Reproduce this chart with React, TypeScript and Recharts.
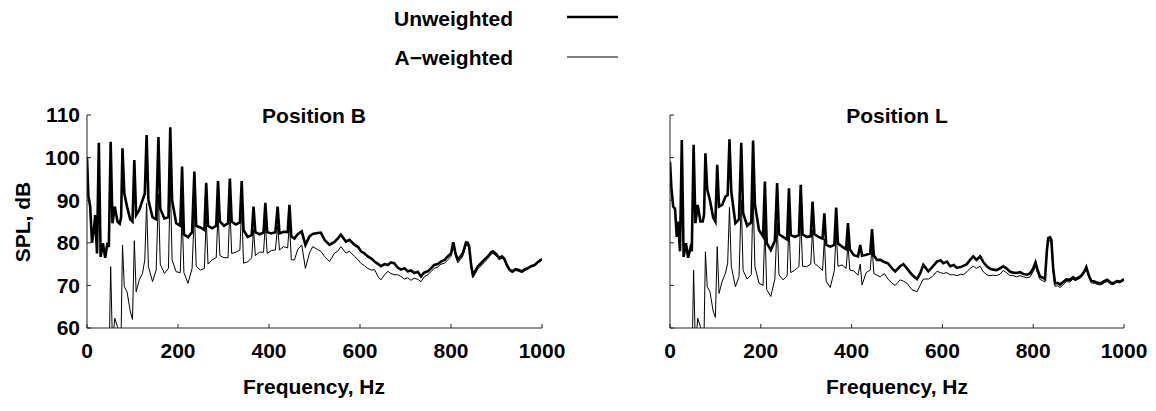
import { Line, LineChart, XAxis, YAxis } from "recharts";

// frequency grid, Hz
const freqs = [
  0, 3, 7, 11, 15, 18, 22, 26, 30, 35, 40, 45, 48,
  52, 56, 61, 67, 72, 75, 78, 82, 88, 95, 100,
  104, 108, 115, 122, 127, 131, 135, 144, 152, 157, 161, 170, 179, 183, 187, 196, 205,
  209, 213, 222, 231,
  236, 240, 249, 258, 262, 266, 275, 284, 288, 292, 301, 310, 314, 318, 327, 336,
  340, 344, 353, 362, 366, 370, 379, 388, 392, 396, 405, 414, 419, 423, 432, 441, 445, 449,
  456, 463, 472, 480, 489, 496, 507, 514, 522, 533, 544, 551, 558, 569, 577,
  588, 596, 602, 610, 617, 625, 632, 640, 646, 654, 661, 668, 675, 683, 690,
  698, 705, 712, 719, 727, 734, 741, 749, 756, 763, 771, 778, 786, 793, 800,
  805, 810, 815, 821, 826, 830, 833, 837, 840, 844, 848, 854, 859, 866, 873,
  881, 888, 892, 899, 906, 912, 917, 922, 928, 935, 942, 949, 956, 963, 970,
  976, 984, 991, 998, 1000,
];

// Position B, SPL dB
const unweightedB = [
  100.2, 91, 88.5, 80, 83, 86.5, 77.5, 103.5, 76.7, 79.9, 76.5, 80, 79,
  103.7, 84.6, 88.5, 85, 84.5, 86, 102.2, 91.6, 88.5, 85.5, 85,
  99.4, 86.5, 87.7, 90, 91.5, 105.3, 90, 86, 85.5, 104.8, 88, 85.7, 86, 107.1, 90, 84.6, 84,
  97.9, 82, 81.3, 82.5,
  96.7, 84, 83.6, 83, 94.1, 84, 83.4, 84, 94.5, 85, 84, 84.6, 95.1, 85, 84.3, 84.8,
  94.5, 83, 81.4, 81.8, 88.5, 82.5, 82, 82.4, 89.4, 82.5, 82.2, 82.5, 88.5, 82.2, 82.6, 82.5, 88.9, 81.5,
  81, 82, 82.7, 79.5, 81.5, 82.1, 82.3, 82.4, 80.7, 79.5, 80.2, 81, 81.9, 80.3, 80.7,
  79.5, 79, 78, 77.5, 76.8, 76.3, 75.6, 75, 74.5, 75, 74.8, 75.4, 75.2, 74.2, 73.7,
  74, 73.3, 73.5, 72.9, 73.2, 72.1, 73, 73.3, 74, 74.8, 75, 75.6, 76, 76.8, 77.5,
  80.1, 77.5, 76, 76.8, 77.6, 79, 80.1, 80, 79.1, 75, 72.5, 73.5, 74.5, 75.2, 76,
  76.8, 77.8, 78, 77.4, 76.4, 76.8, 76.3, 75, 73.8, 73.3, 73.8, 73.6, 73.3, 73.8, 74.1,
  74.5, 74.8, 75.5, 76, 76.2,
];

const aWeightedB = [
  40, 42, 44, 45, 47, 48, 46, 57, 46, 49, 48, 51, 50,
  74.4, 56, 62.3, 60.3, 58, 59, 79.5, 69.7, 68.5, 64, 62,
  80.5, 68.5, 71.3, 72.8, 76, 89.3, 74.4, 70.9, 73.6, 91.4, 75, 72.8, 74, 95.1, 76, 73.2, 73,
  87.4, 73, 70.5, 74,
  87.5, 74.5, 73.6, 74, 85.9, 75, 76, 76.5, 87.1, 77, 76.5, 76.5, 88.5, 77.5, 77.8, 78.3,
  88.5, 75.2, 75.5, 76.5, 83.1, 77, 77.8, 77.8, 84.5, 77.5, 78.2, 78.3, 84, 78.3, 79.1, 78.8, 84.8, 76,
  76, 78.4, 79.5, 74, 77.6, 79.1, 78.4, 78, 76.8, 75.6, 77.6, 78, 79.1, 77.6, 78,
  76.8, 76, 75.2, 74.6, 74, 73.6, 73.7, 72, 71.3, 72.5, 73.3, 72.8, 72.5, 72.5, 72.1,
  71.5, 71.8, 71.2, 71.7, 71.4, 70.9, 72, 72.5, 73.2, 74, 74.3, 75, 75.2, 76, 76.8,
  79.3, 76.8, 75.3, 76.1, 76.9, 78.3, 79.4, 79.3, 78.4, 74.3, 71.8, 72.8, 73.9, 74.6, 75.4,
  76.3, 77.3, 77.5, 77, 76, 76.4, 75.9, 74.6, 73.4, 73, 73.5, 73.3, 73, 73.5, 73.9,
  74.3, 74.6, 75.3, 75.8, 76,
];

// Position L, SPL dB
const unweightedL = [
  99, 93, 88.5, 88, 81.4, 85, 78, 104.1, 76.7, 79.9, 76.5, 78.8, 78,
  103, 84.6, 88.9, 85, 85, 86.5, 101, 92.5, 90, 86, 85,
  98.3, 88.5, 88.9, 90.8, 91.2, 104.3, 92, 84.6, 85.5, 103.5, 87, 84, 84.8, 104, 89, 83, 81.5,
  94.4, 80, 78.3, 80.5,
  94, 82, 81.4, 80.8, 92.8, 81.8, 81.4, 81.8, 93.6, 82, 81.4, 81.5, 89.7, 82, 81.4, 81,
  86.9, 79.5, 79.1, 79.5, 88.3, 79.8, 79.1, 78.5, 84.6, 78.5, 77.1, 76.8, 79.5, 77, 77.2, 77.5, 83.2, 77,
  76, 76, 75.5, 75.2, 74, 73.3, 74.5, 75, 74, 72.5, 71.5, 72.8, 74.8, 73.3, 74.2,
  75.6, 75.9, 75.2, 75.6, 74.5, 74.8, 74.1, 74.3, 74.6, 75, 76, 76.8, 76, 76.8, 75.5,
  74.5, 73.9, 73.7, 73.6, 74, 74.5, 74, 73.2, 73, 72.9, 73.1, 72.7, 72.5, 72.8, 74,
  75.4, 73.5, 72.1, 71.8, 71.5, 78, 81.1, 81.3, 80.7, 74, 70.5, 70.6, 70.2, 70.8, 71.4,
  71.3, 71.9, 71.5, 71.8, 72.3, 73.2, 74.3, 72.5, 71, 70.9, 70.6, 70.5, 71, 71.3, 70.7,
  70.5, 71, 70.9, 71.3, 71.5,
];

const aWeightedL = [
  40, 42, 44, 45, 46, 47, 45, 56, 46, 48, 47, 50, 49,
  73.6, 55, 62.3, 60.3, 58, 58.5, 77.9, 69.7, 68.5, 64, 62.5,
  79.1, 68.1, 71, 72.8, 75.2, 88.3, 74.5, 69.7, 72, 90.1, 73.5, 71.5, 72.5, 92, 74.5, 70.5, 70,
  84, 69, 67.4, 71.5,
  84.8, 72.5, 71.3, 72.2, 84.6, 73, 73.6, 74.4, 86.2, 74.5, 74.4, 75, 83.1, 75.2, 74.4, 73.5,
  80.9, 71, 69.5, 73.5, 82.9, 74.5, 74.8, 74, 79.7, 73.6, 73.4, 72.4, 75, 70.1, 73, 73.6, 79.1, 72.8,
  72.4, 72, 72.8, 71.5, 70.5, 70, 71.3, 71, 70.5, 69, 68.5, 70, 71.5, 71.5, 72,
  73.3, 73, 72.8, 73, 72.5, 72.5, 72.3, 72.6, 72.5, 73.2, 74, 74.5, 74, 74.5, 73.2,
  72.5, 72.3, 72.4, 72.3, 72.6, 73.5, 73, 72.3, 72.3, 72, 72.3, 72, 71.8, 72, 73.2,
  74.6, 72.8, 71.4, 71.1, 70.8, 77.2, 80.3, 80.5, 79.9, 73.2, 69.8, 69.9, 69.5, 70.2, 70.9,
  70.8, 71.5, 71.1, 71.4, 71.9, 72.8, 73.9, 72.1, 70.6, 70.5, 70.2, 70.1, 70.6, 70.9, 70.3,
  70.2, 70.7, 70.6, 71.1, 71.3,
];

const xTicks = [0, 200, 400, 600, 800, 1000];
const yTicks = [60, 70, 80, 90, 100, 110];

const FONT = "'Liberation Sans', Arial, Helvetica, sans-serif";
const tickStyle = { fontFamily: FONT, fontSize: 21, fontWeight: "bold", fill: "#000" };

function Panel({ left, width, yWidth, right, unweighted, aWeighted, showYLabels }) {
  const rows = freqs.map((f, i) => ({ f, u: unweighted[i], a: aWeighted[i] }));
  return (
    <div style={{ position: "absolute", left, top: 0 }}>
      <LineChart width={width} height={411} data={rows} margin={{ top: 115, right, bottom: 53, left: 0 }}>
        <XAxis
          dataKey="f"
          type="number"
          domain={[0, 1000]}
          ticks={xTicks}
          height={30}
          tickSize={-4}
          tickMargin={19}
          stroke="#222"
          tick={tickStyle}
          allowDataOverflow
        />
        <YAxis
          type="number"
          domain={[60, 110]}
          ticks={yTicks}
          width={yWidth}
          tickSize={-4}
          tickMargin={11}
          stroke="#222"
          tick={tickStyle}
          tickFormatter={(v) => (showYLabels ? `${v}` : "")}
          allowDataOverflow
        />
        <Line type="linear" dataKey="a" stroke="#000" strokeWidth={1} dot={false} isAnimationActive={false} />
        <Line type="linear" dataKey="u" stroke="#000" strokeWidth={2.6} dot={false} isAnimationActive={false} />
      </LineChart>
    </div>
  );
}

export default function App() {
  const t = { fontFamily: FONT, fontSize: 21, fontWeight: "bold", fill: "#000" };
  return (
    <div style={{ position: "absolute", left: 0, top: 0, width: 1156, height: 411, background: "#fff" }}>
      <Panel left={0} width={585} yWidth={87} right={43} unweighted={unweightedB} aWeighted={aWeightedB} showYLabels />
      <Panel left={585} width={571} yWidth={85} right={32} unweighted={unweightedL} aWeighted={aWeightedL} showYLabels={false} />
      <svg width={1156} height={411} style={{ position: "absolute", left: 0, top: 0, pointerEvents: "none" }}>
        <text x={513} y={18} textAnchor="end" dominantBaseline="central" {...t}>Unweighted</text>
        <text x={513} y={57} textAnchor="end" dominantBaseline="central" {...t}>A−weighted</text>
        <line x1={567} x2={618} y1={17} y2={17} stroke="#000" strokeWidth={2.6} />
        <line x1={567} x2={618} y1={57} y2={57} stroke="#000" strokeWidth={1} />
        <text x={314} y={115} textAnchor="middle" dominantBaseline="central" {...t}>Position B</text>
        <text x={897} y={115} textAnchor="middle" dominantBaseline="central" {...t}>Position L</text>
        <text x={314} y={386} textAnchor="middle" dominantBaseline="central" {...t}>Frequency, Hz</text>
        <text x={897} y={386} textAnchor="middle" dominantBaseline="central" {...t}>Frequency, Hz</text>
        <text x={22} y={222} textAnchor="middle" dominantBaseline="central" transform="rotate(-90 22 222)" {...t}>SPL, dB</text>
      </svg>
    </div>
  );
}
